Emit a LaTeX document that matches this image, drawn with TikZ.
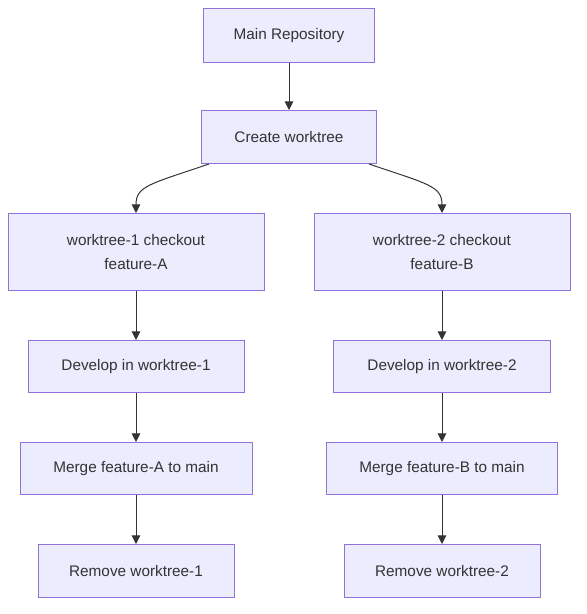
\documentclass[tikz,border=0pt]{standalone}
\usepackage{fontspec}
\setmainfont{Liberation Sans}
\usetikzlibrary{arrows.meta}
\definecolor{boxfill}{HTML}{ECECFF}
\definecolor{boxline}{HTML}{9370DB}
\definecolor{edgecol}{HTML}{333333}
\tikzset{
  flowbox/.style={draw=boxline, fill=boxfill, line width=0.75pt, align=center,
    inner sep=0pt, font=\fontsize{11.5}{17.5}\selectfont, text=edgecol},
  edge/.style={draw=edgecol, line width=0.75pt, -{Triangle[length=6.5pt,width=6.5pt]}}
}
\begin{document}
\begin{tikzpicture}[x=0.75pt,y=0.75pt,yscale=-1,xscale=1]
\useasboundingbox (0,0) rectangle (586,614);

% Nodes
\node [flowbox, minimum width=128.25pt, minimum height=40.5pt] (main) at (289,35.5) {Main Repository};
\node [flowbox, minimum width=131.25pt, minimum height=39.75pt] (create) at (289,137) {Create worktree};
\node [flowbox, minimum width=192pt, minimum height=57.75pt] (wt1) at (136,252) {worktree-1 checkout\\feature-A};
\node [flowbox, minimum width=192pt, minimum height=57.75pt] (wt2) at (442,252) {worktree-2 checkout\\feature-B};
\node [flowbox, minimum width=162pt, minimum height=39pt] (dev1) at (136,366.5) {Develop in worktree-1};
\node [flowbox, minimum width=162.75pt, minimum height=39pt] (dev2) at (442,366.5) {Develop in worktree-2};
\node [flowbox, minimum width=174pt, minimum height=39pt] (merge1) at (136,468.5) {Merge feature-A to main};
\node [flowbox, minimum width=173.25pt, minimum height=39pt] (merge2) at (442,468.5) {Merge feature-B to main};
\node [flowbox, minimum width=147pt, minimum height=39.75pt] (rm1) at (136,571) {Remove worktree-1};
\node [flowbox, minimum width=147pt, minimum height=39.75pt] (rm2) at (442,571) {Remove worktree-2};

% Edges
\draw [edge] (main) -- (create);
\draw [edge] ([xshift=6pt]create.south west) .. controls (150,184) and (136,186) .. (wt1.north);
\draw [edge] ([xshift=-6pt]create.south east) .. controls (428,184) and (442,186) .. (wt2.north);
\draw [edge] (wt1) -- (dev1);
\draw [edge] (dev1) -- (merge1);
\draw [edge] (merge1) -- (rm1);
\draw [edge] (wt2) -- (dev2);
\draw [edge] (dev2) -- (merge2);
\draw [edge] (merge2) -- (rm2);
\end{tikzpicture}
\end{document}
